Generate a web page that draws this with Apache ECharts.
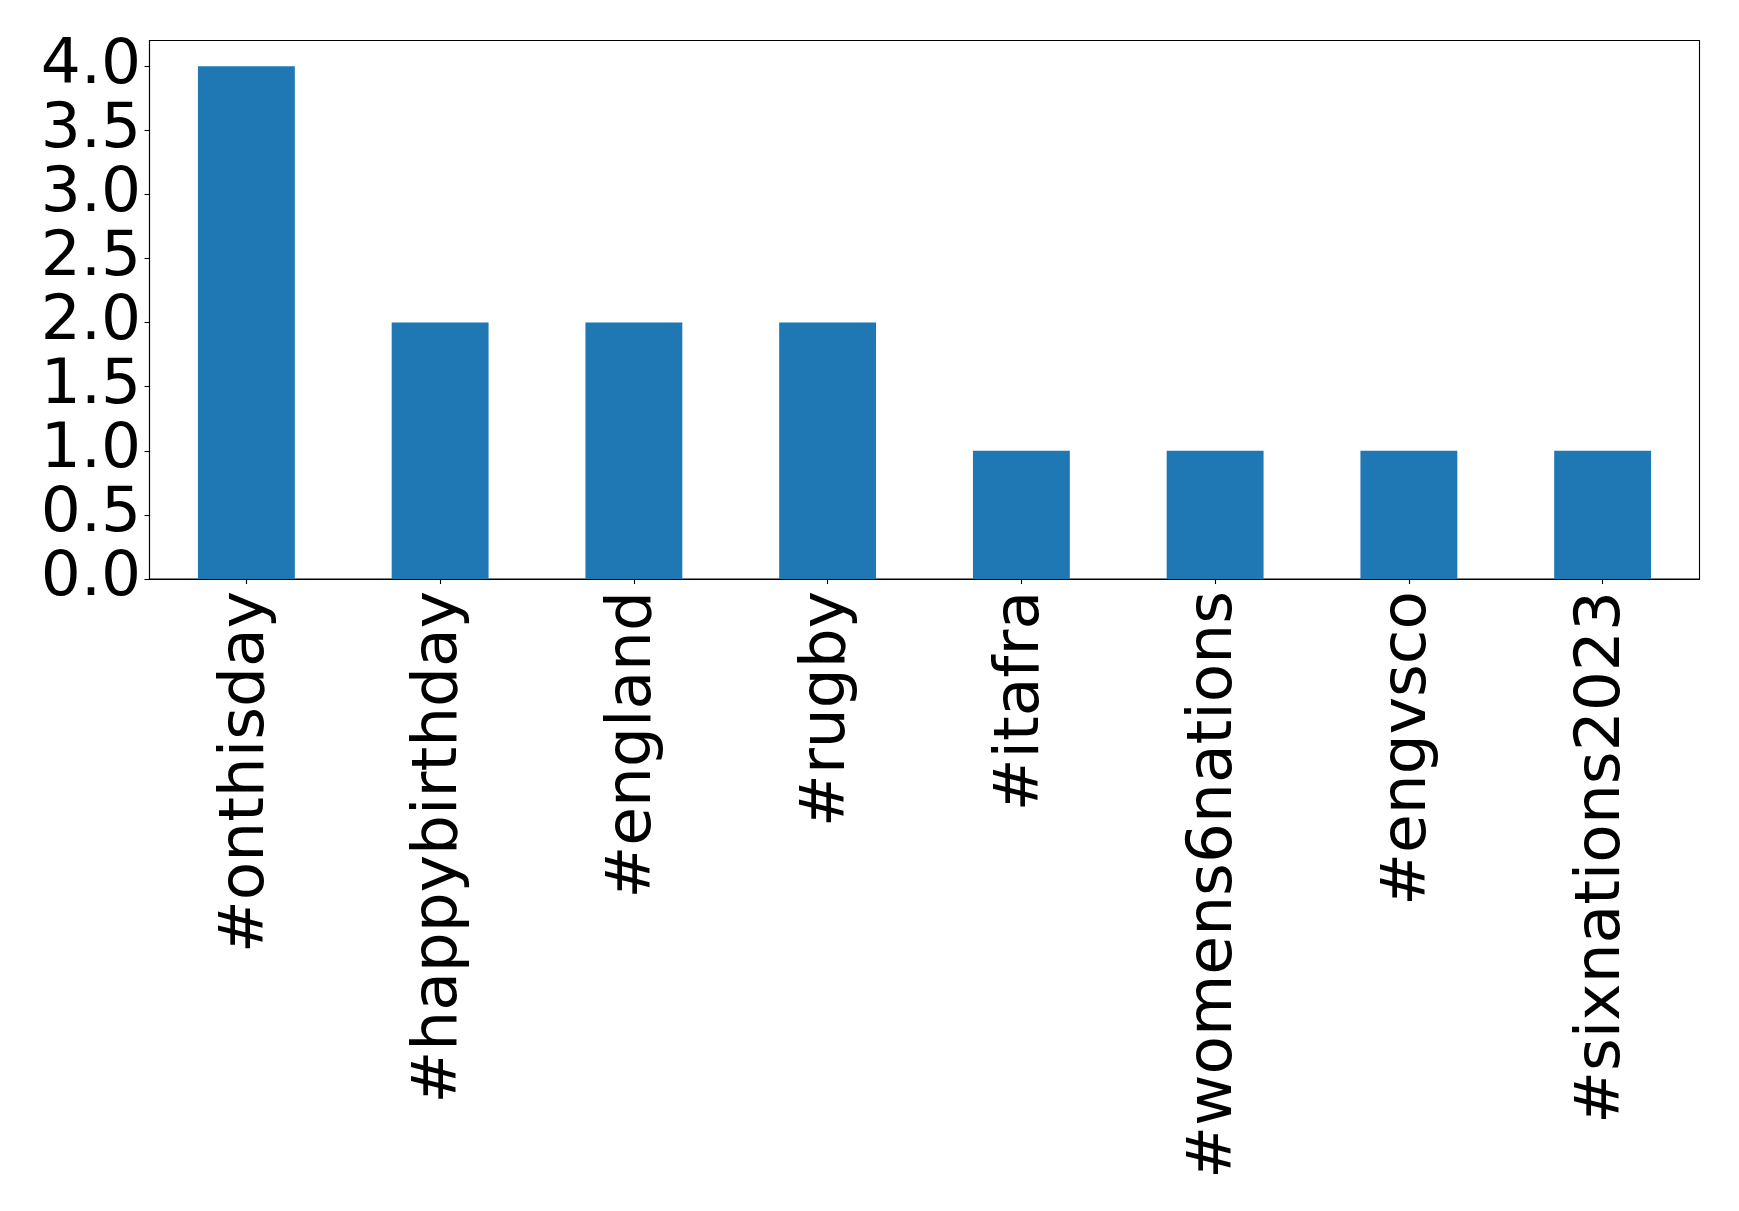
<!DOCTYPE html>
<html>
<head>
<meta charset="utf-8">
<style>
  html, body { margin: 0; padding: 0; background: #ffffff; }
  #chart { width: 1739px; height: 1211px; }
</style>
<script src="https://cdn.jsdelivr.net/npm/echarts@6/dist/echarts.min.js"></script>
</head>
<body>
<div id="chart"></div>
<script>
const categories = ['#onthisday', '#happybirthday', '#england', '#rugby', '#itafra', '#womens6nations', '#engvsco', '#sixnations2023'];
const counts = [4, 2, 2, 2, 1, 1, 1, 1];
const yTicks = [0, 0.5, 1.0, 1.5, 2.0, 2.5, 3.0, 3.5, 4.0];

const chart = echarts.init(document.getElementById('chart'), null, { renderer: 'canvas' });
const FONT = 'DejaVu Sans';
chart.setOption({
  animation: false,
  backgroundColor: '#ffffff',
  grid: {
    left: 149.5, top: 40.5, right: 39.5, bottom: 632,
    show: true, borderColor: '#000000', borderWidth: 1.1, backgroundColor: 'transparent',
    containLabel: false
  },
  xAxis: {
    type: 'category',
    data: categories,
    boundaryGap: true,
    axisLine: { show: true, lineStyle: { color: '#000000', width: 1.1 } },
    axisTick: { show: true, alignWithLabel: true, length: 5, lineStyle: { color: '#000000', width: 1.1 } },
    axisLabel: {
      rotate: 90, margin: 12, interval: 0,
      padding: [7, 0, 0, 0],
      color: '#000000', fontFamily: FONT, fontSize: 63
    },
    splitLine: { show: false }
  },
  yAxis: {
    type: 'value',
    min: 0, max: 4.2,
    axisLine: { show: true, lineStyle: { color: '#000000', width: 1.1 } },
    axisTick: { show: true, length: 5, customValues: yTicks, lineStyle: { color: '#000000', width: 1.1 } },
    axisLabel: {
      customValues: yTicks, margin: 8.5,
      color: '#000000', fontFamily: FONT, fontSize: 63,
      formatter: function (v) { return Number(v).toFixed(1); }
    },
    splitLine: { show: false }
  },
  series: [{
    type: 'bar',
    data: counts,
    barWidth: '50%',
    itemStyle: { color: '#1f77b4' }
  }]
});
</script>
</body>
</html>
